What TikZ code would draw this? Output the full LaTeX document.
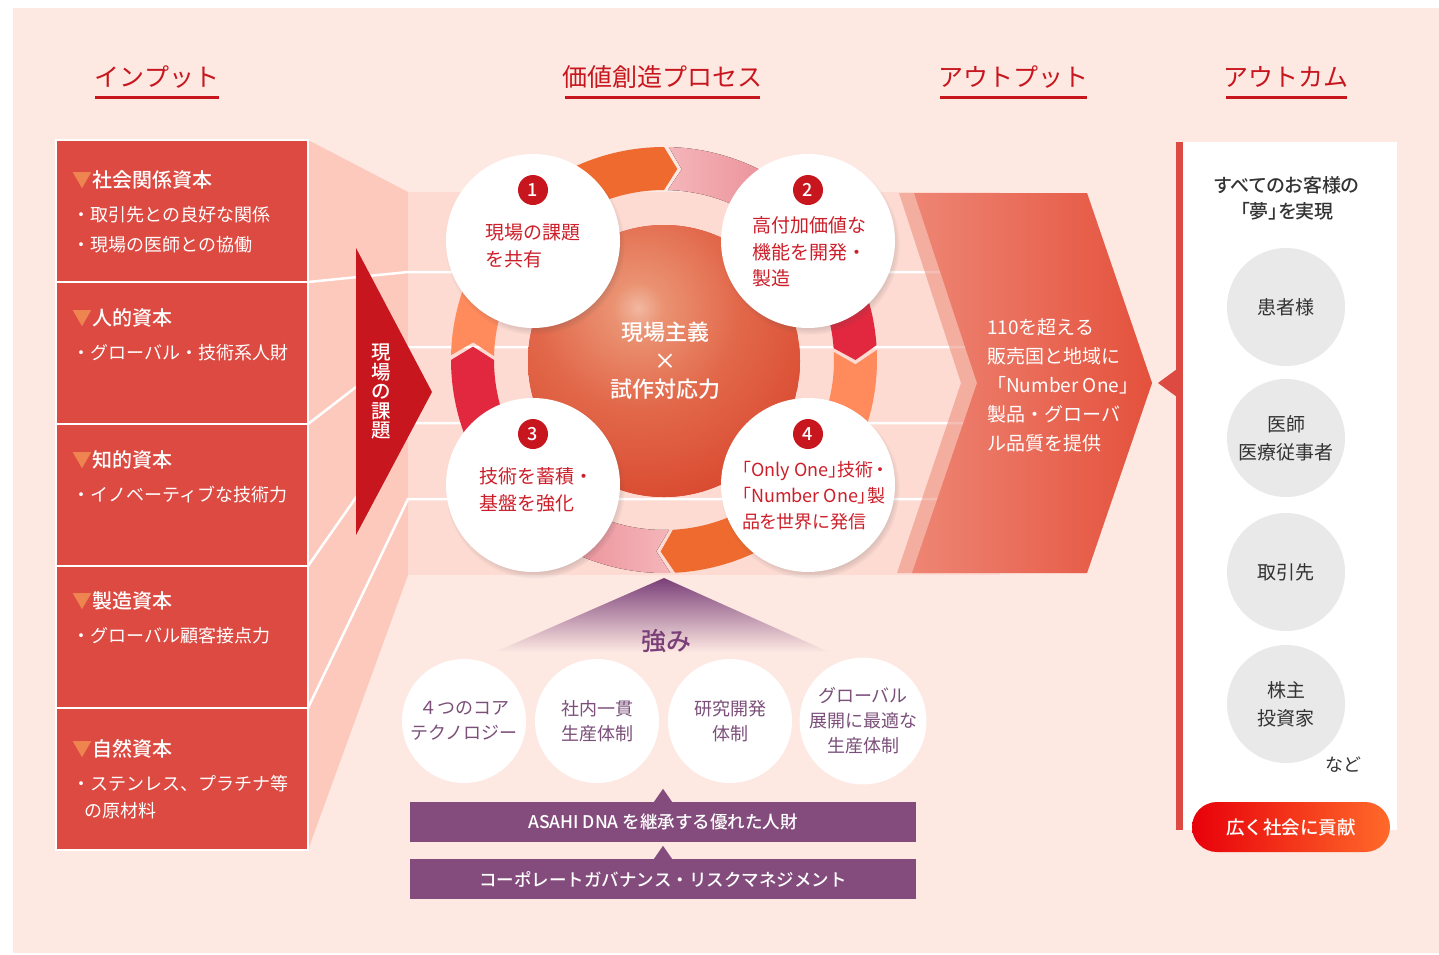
\documentclass[tikz,border=0pt]{standalone}
\usepackage{fontspec}
\setmainfont{Noto Sans CJK JP}[BoldFont={Noto Sans CJK JP Medium}]
\usetikzlibrary{shadows,calc}
\definecolor{bgpink}{HTML}{FDE8E2}
\definecolor{boxred}{HTML}{DC4A42}
\definecolor{funnelc}{HTML}{FCC9BC}
\definecolor{bandc}{HTML}{FDDAD2}
\definecolor{hdred}{HTML}{C8161E}
\definecolor{triorange}{HTML}{EE8450}
\definecolor{ctred}{HTML}{CC1F2A}
\definecolor{ringor}{HTML}{EE6A2E}
\definecolor{ringpinkA}{HTML}{F4B6BA}
\definecolor{ringpinkB}{HTML}{E8808B}
\definecolor{ringcrim}{HTML}{E2283F}
\definecolor{ringlor}{HTML}{FF8A5C}
\definecolor{spherebase}{HTML}{D63F27}
\definecolor{hlA}{HTML}{F2B8A2}
\definecolor{hlB}{HTML}{EA9272}
\definecolor{hlC}{HTML}{E2684A}
\definecolor{chevL}{HTML}{EE8574}
\definecolor{chevR}{HTML}{E4513C}
\definecolor{stripc}{HTML}{EE8A78}
\definecolor{purp}{HTML}{844C7C}
\definecolor{purptxt}{HTML}{7A3F78}
\definecolor{stxt}{HTML}{7B4F7A}
\definecolor{grayc}{HTML}{E9E9E9}
\definecolor{darktxt}{HTML}{333333}
\definecolor{btnL}{HTML}{E8000A}
\definecolor{btnR}{HTML}{FF6A2A}
\pgfdeclareradialshading{spherehl}{\pgfpoint{0bp}{0bp}}{color(0bp)=(hlA); color(3bp)=(hlB); color(12bp)=(hlC); color(28bp)=(spherebase); color(50bp)=(spherebase)}
\newcommand{\RingFrom}[2]{%
  \pgfmathsetmacro{\rfA}{#1-45}%
  \pgfmathsetmacro{\rfT}{#1+4}%
  \fill[#2] plot[domain=\rfA:#1, samples=40, variable=\t] (\t:213) -- (\rfT:191.5) -- plot[domain=#1:\rfA, samples=40, variable=\t] (\t:170) -- cycle;}
\newcommand{\RingTo}[2]{%
  \pgfmathsetmacro{\rtA}{#1+1.3}%
  \pgfmathsetmacro{\rtB}{#1+45}%
  \pgfmathsetmacro{\rtT}{#1+5.3}%
  \fill[#2] plot[domain=\rtA:\rtB, samples=40, variable=\t] (\t:213) -- plot[domain=\rtB:\rtA, samples=40, variable=\t] (\t:170) -- (\rtT:191.5) -- cycle;}
\tikzset{
  hdr/.style={text=hdred, font=\fontsize{25}{30}\selectfont, inner sep=0pt},
  hdrline/.style={hdred, line width=3pt},
  capbox/.style={rectangle, fill=boxred, draw=white, line width=2pt, minimum width=252pt, minimum height=142pt, inner sep=0pt},
  caphead/.style={anchor=west, text=white, font=\fontsize{20}{24}\selectfont\bfseries, inner sep=0pt},
  capitem/.style={anchor=west, text=white, font=\fontsize{18}{24}\selectfont, inner sep=0pt},
  wline/.style={white, line width=2.5pt},
  vtext/.style={text=white, font=\fontsize{19.5}{19.5}\selectfont\bfseries, align=center, inner sep=0pt},
  wcirc/.style={circle, fill=white, minimum size=174pt, inner sep=0pt,
    circular drop shadow={shadow xshift=2pt, shadow yshift=-4pt, shadow scale=1.03, opacity=0.35, fill=black!70}},
  badge/.style={circle, fill=hdred, minimum size=30pt, inner sep=0pt, text=white, font=\fontsize{18}{18}\selectfont\bfseries},
  ctext/.style={anchor=west, text=ctred, align=left, inner sep=0pt, font=\fontsize{19}{26.5}\selectfont},
  centertext/.style={text=white, align=center, inner sep=0pt, font=\fontsize{22}{28.5}\selectfont\bfseries},
  chevtext/.style={anchor=west, text=white, align=left, inner sep=0pt, font=\fontsize{19}{29}\selectfont},
  darkt/.style={text=darktxt, inner sep=0pt},
  gcirc/.style={circle, fill=grayc, minimum size=118pt, inner sep=0pt, text=darktxt, align=center, font=\fontsize{19}{28}\selectfont},
  btn/.style={rectangle, rounded corners=25pt, left color=btnL, right color=btnR, minimum width=198pt, minimum height=50pt, inner sep=0pt, text=white, font=\fontsize{18.5}{20}\selectfont\bfseries},
  scirc/.style={circle, fill=white, minimum size=124pt, inner sep=0pt, text=stxt, align=center, font=\fontsize{18}{25}\selectfont},
  pbar/.style={rectangle, fill=purp, minimum width=506pt, minimum height=40pt, inner sep=0pt, text=white, font=\fontsize{17.5}{20}\selectfont\bfseries}
}
\begin{document}
\begin{tikzpicture}[x=1pt,y=-1pt]
\useasboundingbox (0,0) rectangle (1439,954);
\fill[white] (0,0) rectangle (1439,954);
\fill[bgpink] (13,8) rectangle (1439,953);

% headers
\node[hdr] (h1) at (157,77) {インプット};
\node[hdr] (h2) at (662,77) {価値創造プロセス};
\node[hdr] (h3) at (1013,77) {アウトプット};
\node[hdr] (h4) at (1286,77) {アウトカム};
\draw[hdrline] (95,97) -- (219,97);
\draw[hdrline] (565,97) -- (760,97);
\draw[hdrline] (940,97) -- (1087,97);
\draw[hdrline] (1226,97) -- (1347,97);

% funnel and band
\fill[funnelc] (308,140) -- (408,192) -- (408,575) -- (308,850) -- cycle;
\fill[bandc] (408,192) rectangle (1000,575);
\draw[wline] (308,282) -- (408,272) -- (1000,272);
\draw[wline] (308,424) -- (408,347) -- (1000,347);
\draw[wline] (308,566) -- (408,423) -- (1000,423);
\draw[wline] (308,708) -- (408,499) -- (1000,499);

% input boxes
\node[capbox] (cap1) at (182,211) {};
\node[capbox] (cap2) at (182,353) {};
\node[capbox] (cap3) at (182,495) {};
\node[capbox] (cap4) at (182,637) {};
\node[capbox] (cap5) at (182,779) {};
\node[caphead] (c1h) at (72,180) {\textcolor{triorange}{▼}社会関係資本};
\node[capitem] (c1a) at (72,215) {・取引先との良好な関係};
\node[capitem] (c1b) at (72,245) {・現場の医師との協働};
\node[caphead] (c2h) at (72,318) {\textcolor{triorange}{▼}人的資本};
\node[capitem] (c2a) at (72,353) {・グローバル・技術系人財};
\node[caphead] (c3h) at (72,460) {\textcolor{triorange}{▼}知的資本};
\node[capitem] (c3a) at (72,495) {・イノベーティブな技術力};
\node[caphead] (c4h) at (72,601) {\textcolor{triorange}{▼}製造資本};
\node[capitem] (c4a) at (72,636) {・グローバル顧客接点力};
\node[caphead] (c5h) at (72,749) {\textcolor{triorange}{▼}自然資本};
\node[capitem] (c5a) at (72,784) {・ステンレス、プラチナ等};
\node[capitem] (c5b) at (84,811) {の原材料};

% red triangle
\fill[hdred] (356,248) -- (432,392) -- (356,535) -- cycle;
\node[vtext] (vt) at (381,392) {現\\場\\の\\課\\題};

% ring
\begin{scope}[shift={(664,360)}]
\RingTo{-90}{left color=ringpinkA, right color=ringpinkB}
\RingFrom{-90}{ringor}
\RingTo{-4}{ringlor}
\RingFrom{-4}{ringcrim}
\RingTo{87}{left color=ringpinkB, right color=ringpinkA}
\RingFrom{87}{ringor}
\RingTo{180}{ringlor}
\RingFrom{180}{ringcrim}
\end{scope}

% sphere
\begin{scope}
\clip (664,361) circle[radius=136pt];
\fill[spherebase] (664,361) circle[radius=136pt];
\shade[shading=spherehl] (638,308) circle[radius=210pt];
\end{scope}
\node[centertext] (core) at (665,361) {現場主義\\×\\試作対応力};

% process circles
\node[wcirc] (p1) at (533,241) {};
\node[wcirc] (p2) at (808,241) {};
\node[wcirc] (p3) at (533,485) {};
\node[wcirc] (p4) at (808,485) {};
\node[badge] (n1) at (533,190) {1};
\node[badge] (n2) at (808,190) {2};
\node[badge] (n3) at (533,434) {3};
\node[badge] (n4) at (808,434) {4};
\node[ctext] (t1) at (485,246) {現場の課題\\を共有};
\node[ctext] (t2) at (752,252) {高付加価値な\\機能を開発・\\製造};
\node[ctext] (t3) at (479,490) {技術を蓄積・\\基盤を強化};
\node[ctext, font=\fontsize{18}{26}\selectfont\addfontfeatures{RawFeature=+palt}] (t4) at (742,496) {「Only One」技術\,・\\「Number One」製\\品を世界に発信};

% output chevron
\fill[stripc, opacity=0.55] (899,193) -- (1087,193) -- (1152,383) -- (1087,573) -- (897,573) -- (961,383) -- cycle;
\shade[left color=chevL, right color=chevR] (914,193) -- (1087,193) -- (1152,383) -- (1087,573) -- (912,573) -- (977,383) -- cycle;
\node[chevtext] (out) at (987,385) {110を超える\\販売国と地域に\\「Number One」\\製品・グローバ\\ル品質を提供};

% outcome column
\fill[white] (1183,142) rectangle (1397,830);
\fill[boxred] (1176,142) rectangle (1183,830);
\fill[boxred] (1177,369) -- (1158,383) -- (1177,397) -- cycle;
\node[darkt, align=center, font=\fontsize{19}{26}\selectfont\bfseries\addfontfeatures{RawFeature=+palt}] (dream) at (1287,198) {すべてのお客様の\\「夢」を実現};
\node[gcirc] (o1) at (1286,307) {患者様};
\node[gcirc] (o2) at (1286,438) {医師\\医療従事者};
\node[gcirc] (o3) at (1286,572) {取引先};
\node[gcirc] (o4) at (1286,704) {株主\\投資家};
\node[darkt, font=\fontsize{18}{20}\selectfont] (etc) at (1343,765) {など};
\node[btn] (btn) at (1291,827) {広く社会に貢献};

% strengths
\shade[top color=purptxt, bottom color=bgpink] (664,578) -- (829,652) -- (495,652) -- cycle;
\node[text=purptxt, inner sep=0pt, font=\fontsize{25}{28}\selectfont\bfseries] (str) at (666,641) {強み};
\node[scirc] (s1) at (464,721) {４つのコア\\テクノロジー};
\node[scirc] (s2) at (597,721) {社内一貫\\生産体制};
\node[scirc] (s3) at (730,721) {研究開発\\体制};
\node[scirc] (s4) at (863,721) {グローバル\\展開に最適な\\生産体制};
\node[pbar] (bar1) at (663,822) {ASAHI DNA を継承する優れた人財};
\node[pbar] (bar2) at (663,879) {コーポレートガバナンス・リスクマネジメント};
\fill[purp] ($(bar1.north)+(-9,0)$) -- ($(bar1.north)+(0,-13)$) -- ($(bar1.north)+(9,0)$) -- cycle;
\fill[purp] ($(bar2.north)+(-9,0)$) -- ($(bar2.north)+(0,-13)$) -- ($(bar2.north)+(9,0)$) -- cycle;
\end{tikzpicture}
\end{document}
